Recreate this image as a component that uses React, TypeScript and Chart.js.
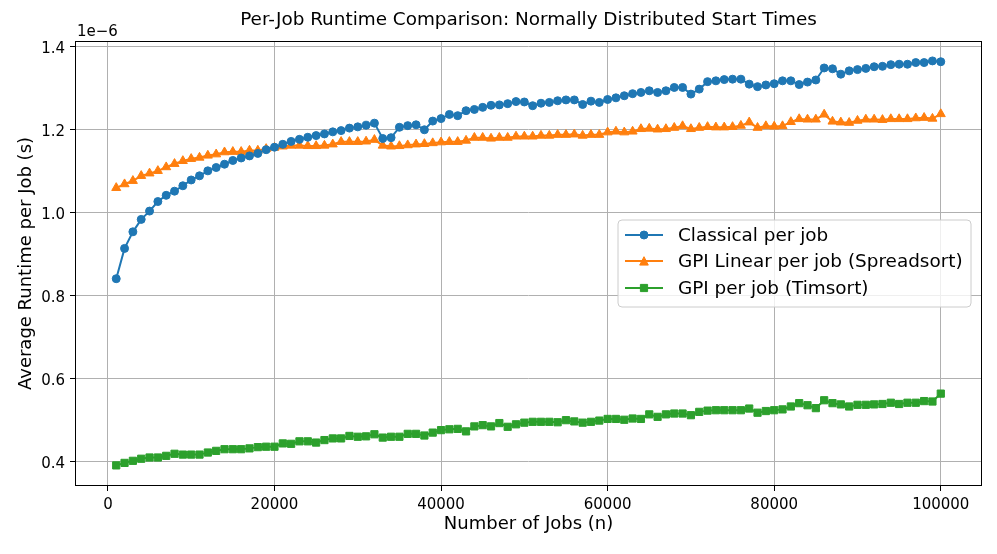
import React, { useEffect, useRef } from "react";
import { Chart, registerables } from "chart.js";

Chart.register(...registerables);

const JOBS = [
  1000, 2000, 3000, 4000, 5000, 6000, 7000, 8000, 9000, 10000,
  11000, 12000, 13000, 14000, 15000, 16000, 17000, 18000, 19000, 20000,
  21000, 22000, 23000, 24000, 25000, 26000, 27000, 28000, 29000, 30000,
  31000, 32000, 33000, 34000, 35000, 36000, 37000, 38000, 39000, 40000,
  41000, 42000, 43000, 44000, 45000, 46000, 47000, 48000, 49000, 50000,
  51000, 52000, 53000, 54000, 55000, 56000, 57000, 58000, 59000, 60000,
  61000, 62000, 63000, 64000, 65000, 66000, 67000, 68000, 69000, 70000,
  71000, 72000, 73000, 74000, 75000, 76000, 77000, 78000, 79000, 80000,
  81000, 82000, 83000, 84000, 85000, 86000, 87000, 88000, 89000, 90000,
  91000, 92000, 93000, 94000, 95000, 96000, 97000, 98000, 99000, 100000,
];

// values in units of 1e-6 s
const CLASSICAL = [
  0.841, 0.914, 0.954, 0.984, 1.004, 1.027, 1.042, 1.052, 1.065, 1.079,
  1.089, 1.101, 1.109, 1.117, 1.126, 1.132, 1.137, 1.143, 1.152, 1.158,
  1.165, 1.172, 1.177, 1.182, 1.186, 1.190, 1.195, 1.198, 1.204, 1.207,
  1.211, 1.216, 1.179, 1.181, 1.206, 1.210, 1.212, 1.200, 1.221, 1.227,
  1.237, 1.234, 1.246, 1.249, 1.254, 1.259, 1.260, 1.263, 1.268, 1.267,
  1.258, 1.264, 1.266, 1.270, 1.272, 1.272, 1.261, 1.269, 1.266, 1.273,
  1.277, 1.282, 1.287, 1.290, 1.294, 1.290, 1.294, 1.302, 1.302, 1.286,
  1.298, 1.316, 1.318, 1.321, 1.322, 1.322, 1.310, 1.304, 1.308, 1.311,
  1.318, 1.318, 1.309, 1.315, 1.320, 1.349, 1.347, 1.334, 1.342, 1.345,
  1.348, 1.352, 1.353, 1.357, 1.358, 1.358, 1.362, 1.362, 1.366, 1.364,
];

const GPI_LINEAR = [
  1.060, 1.069, 1.077, 1.089, 1.095, 1.101, 1.110, 1.118, 1.125, 1.130,
  1.133, 1.138, 1.141, 1.146, 1.147, 1.147, 1.150, 1.150, 1.154, 1.157,
  1.160, 1.162, 1.162, 1.161, 1.161, 1.162, 1.165, 1.171, 1.171, 1.171,
  1.172, 1.176, 1.162, 1.160, 1.161, 1.163, 1.165, 1.166, 1.168, 1.170,
  1.171, 1.171, 1.174, 1.181, 1.181, 1.179, 1.181, 1.181, 1.184, 1.184,
  1.184, 1.186, 1.186, 1.188, 1.188, 1.189, 1.186, 1.188, 1.188, 1.194,
  1.196, 1.194, 1.196, 1.202, 1.203, 1.201, 1.202, 1.205, 1.209, 1.202,
  1.205, 1.207, 1.206, 1.206, 1.207, 1.210, 1.218, 1.205, 1.209, 1.208,
  1.209, 1.219, 1.226, 1.225, 1.225, 1.237, 1.220, 1.218, 1.217, 1.222,
  1.225, 1.225, 1.224, 1.226, 1.226, 1.226, 1.228, 1.229, 1.227, 1.238,
];

const GPI_TIMSORT = [
  0.391, 0.397, 0.402, 0.407, 0.410, 0.410, 0.414, 0.419, 0.417, 0.417,
  0.417, 0.422, 0.426, 0.430, 0.430, 0.430, 0.432, 0.435, 0.436, 0.436,
  0.444, 0.443, 0.449, 0.449, 0.446, 0.452, 0.456, 0.456, 0.462, 0.460,
  0.461, 0.466, 0.458, 0.460, 0.460, 0.467, 0.467, 0.463, 0.470, 0.476,
  0.478, 0.479, 0.473, 0.485, 0.488, 0.485, 0.493, 0.484, 0.490, 0.494,
  0.496, 0.496, 0.496, 0.495, 0.500, 0.497, 0.494, 0.496, 0.499, 0.503,
  0.503, 0.501, 0.504, 0.503, 0.514, 0.508, 0.514, 0.516, 0.516, 0.512,
  0.520, 0.523, 0.524, 0.524, 0.524, 0.524, 0.528, 0.518, 0.522, 0.524,
  0.526, 0.533, 0.541, 0.536, 0.529, 0.548, 0.541, 0.538, 0.533, 0.537,
  0.537, 0.538, 0.539, 0.542, 0.539, 0.542, 0.542, 0.546, 0.545, 0.564,
];

const X_TICKS = [0, 20000, 40000, 60000, 80000, 100000];
const Y_TICKS = [0.4, 0.6, 0.8, 1.0, 1.2, 1.4];

const TITLE = "Per-Job Runtime Comparison: Normally Distributed Start Times";
const X_LABEL = "Number of Jobs (n)";
const Y_LABEL = "Average Runtime per Job (s)";
const Y_OFFSET_LABEL = "1e\u22126";
const SERIES_LABELS = [
  "Classical per job",
  "GPI Linear per job (Spreadsort)",
  "GPI per job (Timsort)",
];
const COLORS = ["#1f77b4", "#ff7f0e", "#2ca02c"];
const MARKERS = ["circle", "triangle", "rect"];

const FONT = '"DejaVu Sans", sans-serif';

function drawMarker(ctx: CanvasRenderingContext2D, kind: string, x: number, y: number) {
  ctx.beginPath();
  if (kind === "circle") {
    ctx.arc(x, y, 4, 0, Math.PI * 2);
  } else if (kind === "triangle") {
    ctx.moveTo(x, y - 4.3);
    ctx.lineTo(x + 4.3, y + 4.1);
    ctx.lineTo(x - 4.3, y + 4.1);
    ctx.closePath();
  } else {
    ctx.rect(x - 3.6, y - 3.6, 7.2, 7.2);
  }
  ctx.fill();
  ctx.stroke();
}

const decorPlugin = {
  id: "decor",
  afterDraw(chart: any) {
    const { ctx, chartArea: a } = chart;
    ctx.save();
    // frame
    ctx.strokeStyle = "#000";
    ctx.lineWidth = 1;
    ctx.strokeRect(a.left + 0.5, a.top + 0.5, a.right - a.left - 1, a.bottom - a.top - 1);

    ctx.fillStyle = "#000";
    // title
    ctx.font = `18.4px ${FONT}`;
    ctx.textAlign = "center";
    ctx.textBaseline = "middle";
    ctx.fillText(TITLE, (a.left + a.right) / 2, 20);

    // x label
    ctx.font = `18px ${FONT}`;
    ctx.fillText(X_LABEL, (a.left + a.right) / 2, 524);

    // y label
    ctx.save();
    ctx.translate(26, (a.top + a.bottom) / 2);
    ctx.rotate(-Math.PI / 2);
    ctx.fillText(Y_LABEL, 0, 0);
    ctx.restore();

    // offset label
    ctx.font = `15px ${FONT}`;
    ctx.textAlign = "left";
    ctx.textBaseline = "alphabetic";
    ctx.fillText(Y_OFFSET_LABEL, a.left + 2, 36);

    // legend
    const bx = 618, by = 220, bw = 353, bh = 87, r = 4;
    ctx.beginPath();
    ctx.moveTo(bx + r, by);
    ctx.lineTo(bx + bw - r, by);
    ctx.quadraticCurveTo(bx + bw, by, bx + bw, by + r);
    ctx.lineTo(bx + bw, by + bh - r);
    ctx.quadraticCurveTo(bx + bw, by + bh, bx + bw - r, by + bh);
    ctx.lineTo(bx + r, by + bh);
    ctx.quadraticCurveTo(bx, by + bh, bx, by + bh - r);
    ctx.lineTo(bx, by + r);
    ctx.quadraticCurveTo(bx, by, bx + r, by);
    ctx.closePath();
    ctx.fillStyle = "rgba(255,255,255,0.8)";
    ctx.fill();
    ctx.strokeStyle = "#cccccc";
    ctx.lineWidth = 1;
    ctx.stroke();

    const rows = [235, 261, 288];
    ctx.font = `18.4px ${FONT}`;
    ctx.textBaseline = "middle";
    ctx.textAlign = "left";
    SERIES_LABELS.forEach((label, i) => {
      const y = rows[i];
      ctx.strokeStyle = COLORS[i];
      ctx.fillStyle = COLORS[i];
      ctx.lineWidth = 2;
      ctx.beginPath();
      ctx.moveTo(625, y);
      ctx.lineTo(663, y);
      ctx.stroke();
      ctx.lineWidth = 1;
      drawMarker(ctx, MARKERS[i], 644, y);
      ctx.fillStyle = "#000";
      ctx.fillText(label, 678, y + 1);
    });
    ctx.restore();
  },
};

export default function App() {
  const ref = useRef<HTMLCanvasElement | null>(null);

  useEffect(() => {
    if (!ref.current) return;
    const series = [CLASSICAL, GPI_LINEAR, GPI_TIMSORT];
    const radii = [4, 5.2, 5.1];
    const chart = new Chart(ref.current, {
      type: "line",
      data: {
        datasets: series.map((vals, i) => ({
          label: SERIES_LABELS[i],
          data: JOBS.map((x, j) => ({ x, y: vals[j] })),
          borderColor: COLORS[i],
          backgroundColor: COLORS[i],
          pointBackgroundColor: COLORS[i],
          pointBorderColor: COLORS[i],
          pointStyle: MARKERS[i] as any,
          pointRadius: radii[i],
          pointBorderWidth: 1,
          borderWidth: 2,
          tension: 0,
          fill: false,
        })),
      },
      options: {
        animation: false,
        responsive: false,
        maintainAspectRatio: false,
        layout: { padding: { top: 41, right: 15, left: 0, bottom: 0 } },
        plugins: {
          legend: { display: false },
          title: { display: false },
          tooltip: { enabled: false },
        },
        scales: {
          x: {
            type: "linear",
            min: -3950,
            max: 104950,
            afterBuildTicks: (s: any) => {
              s.ticks = X_TICKS.map((v) => ({ value: v }));
            },
            afterFit: (s: any) => {
              s.height = 68;
            },
            grid: {
              color: "#b0b0b0",
              lineWidth: 1,
              drawTicks: true,
              tickColor: "#000",
              tickLength: 5,
              tickWidth: 1,
            },
            border: { display: false },
            ticks: {
              color: "#000",
              font: { family: FONT, size: 15 },
              padding: 5,
              maxRotation: 0,
              autoSkip: false,
              callback: (v: any) => String(v),
            },
          },
          y: {
            type: "linear",
            min: 0.3413,
            max: 1.414,
            afterBuildTicks: (s: any) => {
              s.ticks = Y_TICKS.map((v) => ({ value: v }));
            },
            afterFit: (s: any) => {
              s.width = 75;
            },
            grid: {
              color: "#b0b0b0",
              lineWidth: 1,
              drawTicks: true,
              tickColor: "#000",
              tickLength: 5,
              tickWidth: 1,
            },
            border: { display: false },
            ticks: {
              color: "#000",
              font: { family: FONT, size: 15 },
              padding: 5,
              labelOffset: 2,
              autoSkip: false,
              callback: (v: any) => Number(v).toFixed(1),
            },
          },
        },
      },
      plugins: [decorPlugin],
    });
    return () => chart.destroy();
  }, []);

  return (
    <div style={{ position: "fixed", left: 0, top: 0, width: 997, height: 554, background: "#fff" }}>
      <canvas ref={ref} width={997} height={554} style={{ width: 997, height: 554 }} />
    </div>
  );
}
